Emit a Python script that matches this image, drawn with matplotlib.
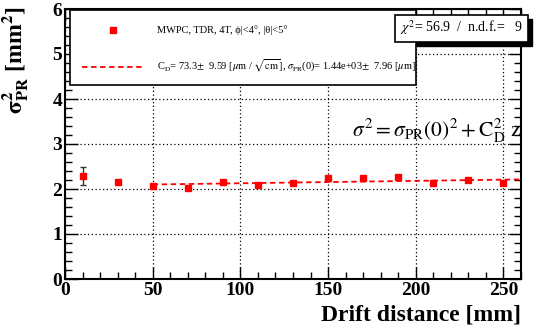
import numpy as np
import matplotlib
matplotlib.use("Agg")
import matplotlib.pyplot as plt
from matplotlib.patches import Rectangle
from matplotlib.lines import Line2D
from matplotlib.ticker import MultipleLocator

plt.rcParams['font.family'] = ['Liberation Serif', 'DejaVu Serif']
plt.rcParams['mathtext.fontset'] = 'stix'

# data
drift = [10, 30, 50, 70, 90, 110, 130, 150, 170, 190, 210, 230, 250]
sig2 = [2.29, 2.15, 2.06, 2.03, 2.16, 2.10, 2.14, 2.25, 2.24, 2.27, 2.13, 2.21, 2.14]
sig2_err = [0.20, 0.03, 0.03, 0.03, 0.03, 0.03, 0.03, 0.03, 0.03, 0.03, 0.03, 0.03, 0.03]

# fit results
c_d = 73.3        # um / sqrt(cm)
sigma0 = 1.44e3   # um
fit_range = [50, 260]

W, H = 543, 331
fig = plt.figure(figsize=(W / 100, H / 100), dpi=100)
ax = fig.add_axes([65 / W, 1 - 279 / H, (521 - 65) / W, (279 - 9) / H])

ax.errorbar(drift, sig2, yerr=sig2_err, fmt='s', color='red', ms=5,
            ecolor='#333333', elinewidth=1, capsize=2, zorder=3)

z = np.linspace(fit_range[0], fit_range[1], 50)
fit = (sigma0 / 1000) ** 2 + (c_d / 1000) ** 2 * z / 10
ax.plot(z, fit, color='red', ls=(0, (3, 2)), lw=1.3, zorder=2)

ax.set_xlim(0, 260)
ax.set_ylim(0, 6)
ax.xaxis.set_major_locator(MultipleLocator(50))
ax.xaxis.set_minor_locator(MultipleLocator(10))
ax.yaxis.set_major_locator(MultipleLocator(1))
ax.yaxis.set_minor_locator(MultipleLocator(0.2))
ax.tick_params(which='both', direction='in', top=True, right=True)
ax.tick_params(which='major', length=9, width=1)
ax.tick_params(which='minor', length=5, width=1)
ax.tick_params(axis='both', labelsize=14, pad=2)
for lab in ax.get_xticklabels() + ax.get_yticklabels():
    lab.set_fontweight('bold')
ax.grid(True, which='major', ls=(0, (1, 2)), color='black', lw=0.9)
for s in ax.spines.values():
    s.set_linewidth(1.5)

fig.text(521 / W, 1 - 315 / H, 'Drift distance [mm]', ha='right', va='center',
         fontsize=17, fontweight='bold')
fig.text(16 / W, 1 - 60 / H, r'$\mathbf{\sigma^{2}_{PR}}$ [mm$^{\mathbf{2}}$]',
         rotation=90, ha='center', va='center', fontsize=17, fontweight='bold')

def fbox(x0, y0, x1, y1, shadow=0):
    if shadow:
        fig.add_artist(Rectangle((x0 / W + shadow / W, 1 - y1 / H - shadow / H),
                                 (x1 - x0) / W, (y1 - y0) / H,
                                 transform=fig.transFigure, facecolor='black',
                                 edgecolor='black', zorder=5))
    fig.add_artist(Rectangle((x0 / W, 1 - y1 / H), (x1 - x0) / W, (y1 - y0) / H,
                             transform=fig.transFigure, facecolor='white',
                             edgecolor='black', lw=1.2, zorder=6))

# legend box
fbox(70, 10, 416, 85)
fig.add_artist(Line2D([113 / W], [1 - 30 / H], marker='s', color='red', ms=5,
                      transform=fig.transFigure, zorder=7))
fig.add_artist(Line2D([82 / W, 143 / W], [1 - 67 / H, 1 - 67 / H], color='red',
                      ls=(0, (3, 2)), lw=1.3, transform=fig.transFigure, zorder=7))
fig.text(157 / W, 1 - 30 / H, 'MWPC, TDR, 4T, ϕ|<4°, |θ|<5°', fontsize=7.5,
         va='center', zorder=8)
fig.text(157 / W, 1 - 66 / H,
         r'C$_{\mathrm{D}}$= 73.3$\pm$  9.59 [$\mu$m / $\sqrt{\mathrm{cm}}$], '
         r'$\sigma_{\mathrm{PR}}$(0)= 1.44e+03$\pm$  7.96 [$\mu$m]',
         fontsize=7.5, va='center', zorder=8)

# chi2 box
fbox(395, 15, 528, 42, shadow=4)
fig.text(461 / W, 1 - 28 / H, r'$\chi^{2}$= 56.9  /  n.d.f.=   9', fontsize=10,
         ha='center', va='center', zorder=8)

fig.text(437 / W, 1 - 131 / H,
         r'$\sigma^{2} = \sigma_{\mathrm{PR}}(0)^{2} + \mathrm{C}_{\mathrm{D}}^{2}\ \mathrm{z}$',
         fontsize=15.5, ha='center', va='center')

fig.savefig('out.png', dpi=100)
